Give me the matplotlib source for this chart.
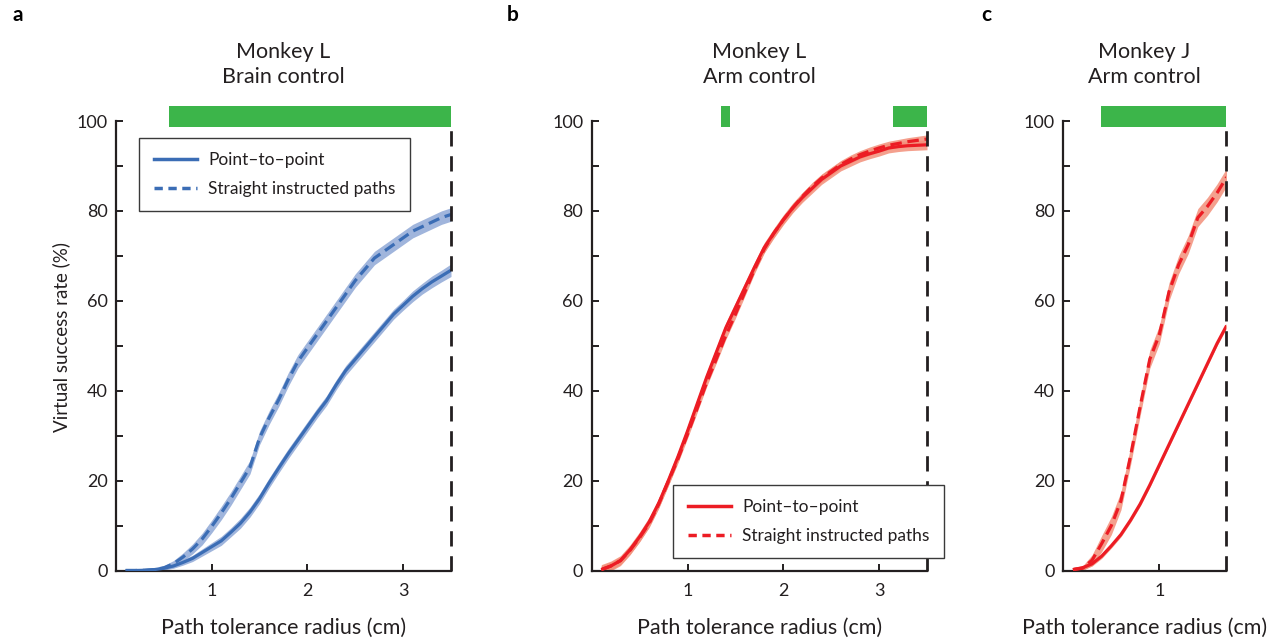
import numpy as np
import matplotlib
matplotlib.use("Agg")
import matplotlib.pyplot as plt
from matplotlib.lines import Line2D

plt.rcParams['font.family'] = ['Lato', 'DejaVu Sans']

TXT = '#231f20'
BLUE = '#3b6db5'
BLUE_BAND = '#8fa8d6'
RED = '#ec1c24'
RED_BAND = '#f3907a'
GREEN = '#3cb54a'

# ---- data ----
x_a = [round(0.1 * i, 1) for i in range(1, 36)]
a_p2p = [0, 0, 0.05, 0.2, 0.5, 1.0, 1.8, 2.7, 4.0, 5.3, 6.6, 8.5, 10.5, 13.0, 16.0,
         19.5, 22.8, 26.0, 29.0, 32.0, 35.0, 37.8, 41.3, 44.5, 47.0, 49.5, 52.0,
         54.5, 57.0, 59.0, 61.0, 62.7, 64.2, 65.5, 66.8]
a_str = [0, 0, 0.05, 0.2, 0.6, 1.5, 3.0, 4.8, 7.0, 9.8, 12.8, 16.0, 19.5, 23.0, 29.5,
         34.0, 38.0, 42.5, 46.5, 49.5, 52.5, 55.5, 58.5, 61.5, 64.5, 67.0, 69.5,
         71.0, 72.5, 74.0, 75.5, 76.5, 77.5, 78.5, 79.2]
a_p2p_err = [0.2, 0.2, 0.2, 0.3, 0.4, 0.5, 0.6, 0.7, 0.8, 0.9, 1.0, 1.0, 1.1, 1.1, 1.1,
             1.1, 1.1, 1.1, 1.1, 1.1, 1.1, 1.1, 1.1, 1.1, 1.1, 1.1, 1.1, 1.1, 1.1,
             1.1, 1.2, 1.2, 1.3, 1.3, 1.4]
a_str_err = [0.2, 0.2, 0.2, 0.3, 0.5, 0.7, 0.9, 1.1, 1.3, 1.4, 1.5, 1.5, 1.5, 1.5, 1.5,
             1.5, 1.5, 1.5, 1.5, 1.5, 1.5, 1.5, 1.5, 1.5, 1.5, 1.5, 1.5, 1.5, 1.5,
             1.5, 1.5, 1.5, 1.5, 1.5, 1.5]

x_b = [round(0.1 * i, 1) for i in range(1, 36)]
b_p2p = [0.2, 1.0, 2.2, 4.6, 7.5, 10.8, 15.0, 20.0, 25.3, 31.0, 37.0, 43.0, 48.5,
         54.0, 58.5, 63.0, 67.5, 71.8, 75.0, 78.0, 80.7, 83.0, 85.0, 87.0, 88.5,
         90.0, 91.0, 92.0, 92.7, 93.3, 94.0, 94.3, 94.5, 94.6, 94.7]
b_str = [0.2, 1.0, 2.2, 4.5, 7.3, 10.5, 14.8, 19.8, 24.8, 30.3, 36.0, 41.8, 47.0,
         52.3, 57.0, 62.0, 67.0, 71.5, 75.0, 78.0, 80.7, 83.2, 85.4, 87.3, 88.8,
         90.3, 91.5, 92.5, 93.3, 94.0, 94.6, 95.0, 95.4, 95.7, 96.0]
b_p2p_err = 1.1
b_str_err = 0.9

x_c = [round(0.1 * i, 1) for i in range(1, 18)]
c_p2p = [0.2, 0.6, 1.5, 3.2, 5.5, 8.0, 11.2, 14.8, 19.0, 23.5, 28.0, 32.5, 37.0,
         41.5, 46.0, 50.5, 54.5]
c_str = [0.2, 0.5, 2.3, 6.0, 10.0, 15.5, 25.5, 36.5, 47.0, 52.5, 62.0, 68.0, 72.5,
         78.5, 81.0, 84.0, 87.5]
c_p2p_err = 0.5
c_str_err = [0.2, 0.5, 1.2, 1.8, 2.0, 2.0, 2.0, 2.0, 2.0, 2.0, 2.0, 2.0, 2.0,
             2.0, 2.0, 2.0, 2.0]

# significance bars (start, end) per panel
sig_a = [(0.55, 3.5)]
sig_b = [(1.35, 1.44), (3.15, 3.5)]
sig_c = [(0.39, 1.69)]

titles = ["Monkey L\nBrain control", "Monkey L\nArm control", "Monkey J\nArm control"]
panel_letters = ["a", "b", "c"]
xmax = [3.5, 3.5, 1.69]
xticks = [[1, 2, 3], [1, 2, 3], [1]]
yticks = [0, 20, 40, 60, 80, 100]
legend_labels = ["Point\u2013to\u2013point", "Straight instructed paths"]

W, H = 1270, 640
fig = plt.figure(figsize=(W / 100, H / 100), dpi=100)

def fx(px):
    return px / W

def fy(py):
    return 1 - py / H

ytop, ybot = 121.0, 570.5
axes_px = [(116.0, 451.0), (591.7, 927.0), (1063.3, 1225.7)]
axs = []
for (l, r) in axes_px:
    ax = fig.add_axes([fx(l), fy(ybot), (r - l) / W, (ybot - ytop) / H])
    axs.append(ax)

data = [
    (x_a, a_p2p, a_str, a_p2p_err, a_str_err, BLUE, BLUE_BAND, sig_a),
    (x_b, b_p2p, b_str, b_p2p_err, b_str_err, RED, RED_BAND, sig_b),
    (x_c, c_p2p, c_str, c_p2p_err, c_str_err, RED, RED_BAND, sig_c),
]

for i, ax in enumerate(axs):
    x, p2p, st, pe, se, col, band, sig = data[i]
    x = np.array(x)
    p2p = np.array(p2p)
    st = np.array(st)
    pe = np.array(pe)
    se = np.array(se)
    ax.fill_between(x, st - se, st + se, color=band, alpha=0.85, lw=0, zorder=2)
    ax.fill_between(x, p2p - pe, p2p + pe, color=band, alpha=0.85, lw=0, zorder=2)
    ax.plot(x, p2p, color=col, lw=2.3, solid_capstyle='butt', zorder=3)
    ax.plot(x, st, color=col, lw=2.3, dashes=(3.6, 1.8), zorder=3)
    ax.plot([xmax[i], xmax[i]], [0, 100], color=TXT, lw=2.0, dashes=(5.5, 3.5),
            zorder=4, clip_on=False)
    for (s, e) in sig:
        ax.barh(101.0, e - s, left=s, height=4.6, color=GREEN, lw=0,
                clip_on=False, zorder=1)
    ax.set_xlim(0, xmax[i])
    ax.set_ylim(0, 100)
    ax.set_xticks(xticks[i])
    ax.set_yticks(yticks)
    ax.set_yticks([10, 30, 50, 70, 90], minor=True)
    for s in ['top', 'right']:
        ax.spines[s].set_visible(False)
    for s in ['left', 'bottom']:
        ax.spines[s].set_linewidth(1.6)
        ax.spines[s].set_color(TXT)
    ax.tick_params(which='both', direction='in', length=5, width=1.4,
                   colors=TXT, labelsize=13, pad=6)
    ax.tick_params(axis='x', pad=9)
    ax.patch.set_visible(False)

    cx = sum(axes_px[i]) / 2
    fig.text(fx(cx), fy(64.5), titles[i], ha='center', va='center',
             fontsize=15.5, color=TXT, linespacing=1.3)
    fig.text(fx(cx), fy(628), "Path tolerance radius (cm)", ha='center',
             va='center', fontsize=15.5, color=TXT)

letter_px = [18, 513, 986]
for i, L in enumerate(panel_letters):
    fig.text(fx(letter_px[i]), fy(15), L, ha='center', va='center',
             fontsize=15, fontweight='bold', color='black')

fig.text(fx(61), fy(337), "Virtual success rate (%)", rotation=90,
         ha='center', va='center', fontsize=13.5, color=TXT)

# legends
def make_legend(ax, col, loc, anchor):
    handles = [Line2D([0], [0], color=col, lw=2.5),
               Line2D([0], [0], color=col, lw=2.5, dashes=(2.4, 1.6))]
    leg = ax.legend(handles, legend_labels, loc=loc, bbox_to_anchor=anchor,
                    bbox_transform=fig.transFigure, borderaxespad=0,
                    fontsize=12.5, frameon=True, fancybox=False,
                    handlelength=2.5, handletextpad=0.6, labelspacing=0.7,
                    borderpad=0.85)
    fr = leg.get_frame()
    fr.set_edgecolor('#3a3a3a')
    fr.set_linewidth(1.0)
    fr.set_facecolor('white')
    fr.set_alpha(1)
    for t in leg.get_texts():
        t.set_color(TXT)
    leg.set_zorder(10)

make_legend(axs[0], BLUE, 'upper left', (fx(139.3), fy(137.7)))
make_legend(axs[1], RED, 'lower left', (fx(673.3), fy(558.4)))

fig.savefig("out.png", dpi=100)
